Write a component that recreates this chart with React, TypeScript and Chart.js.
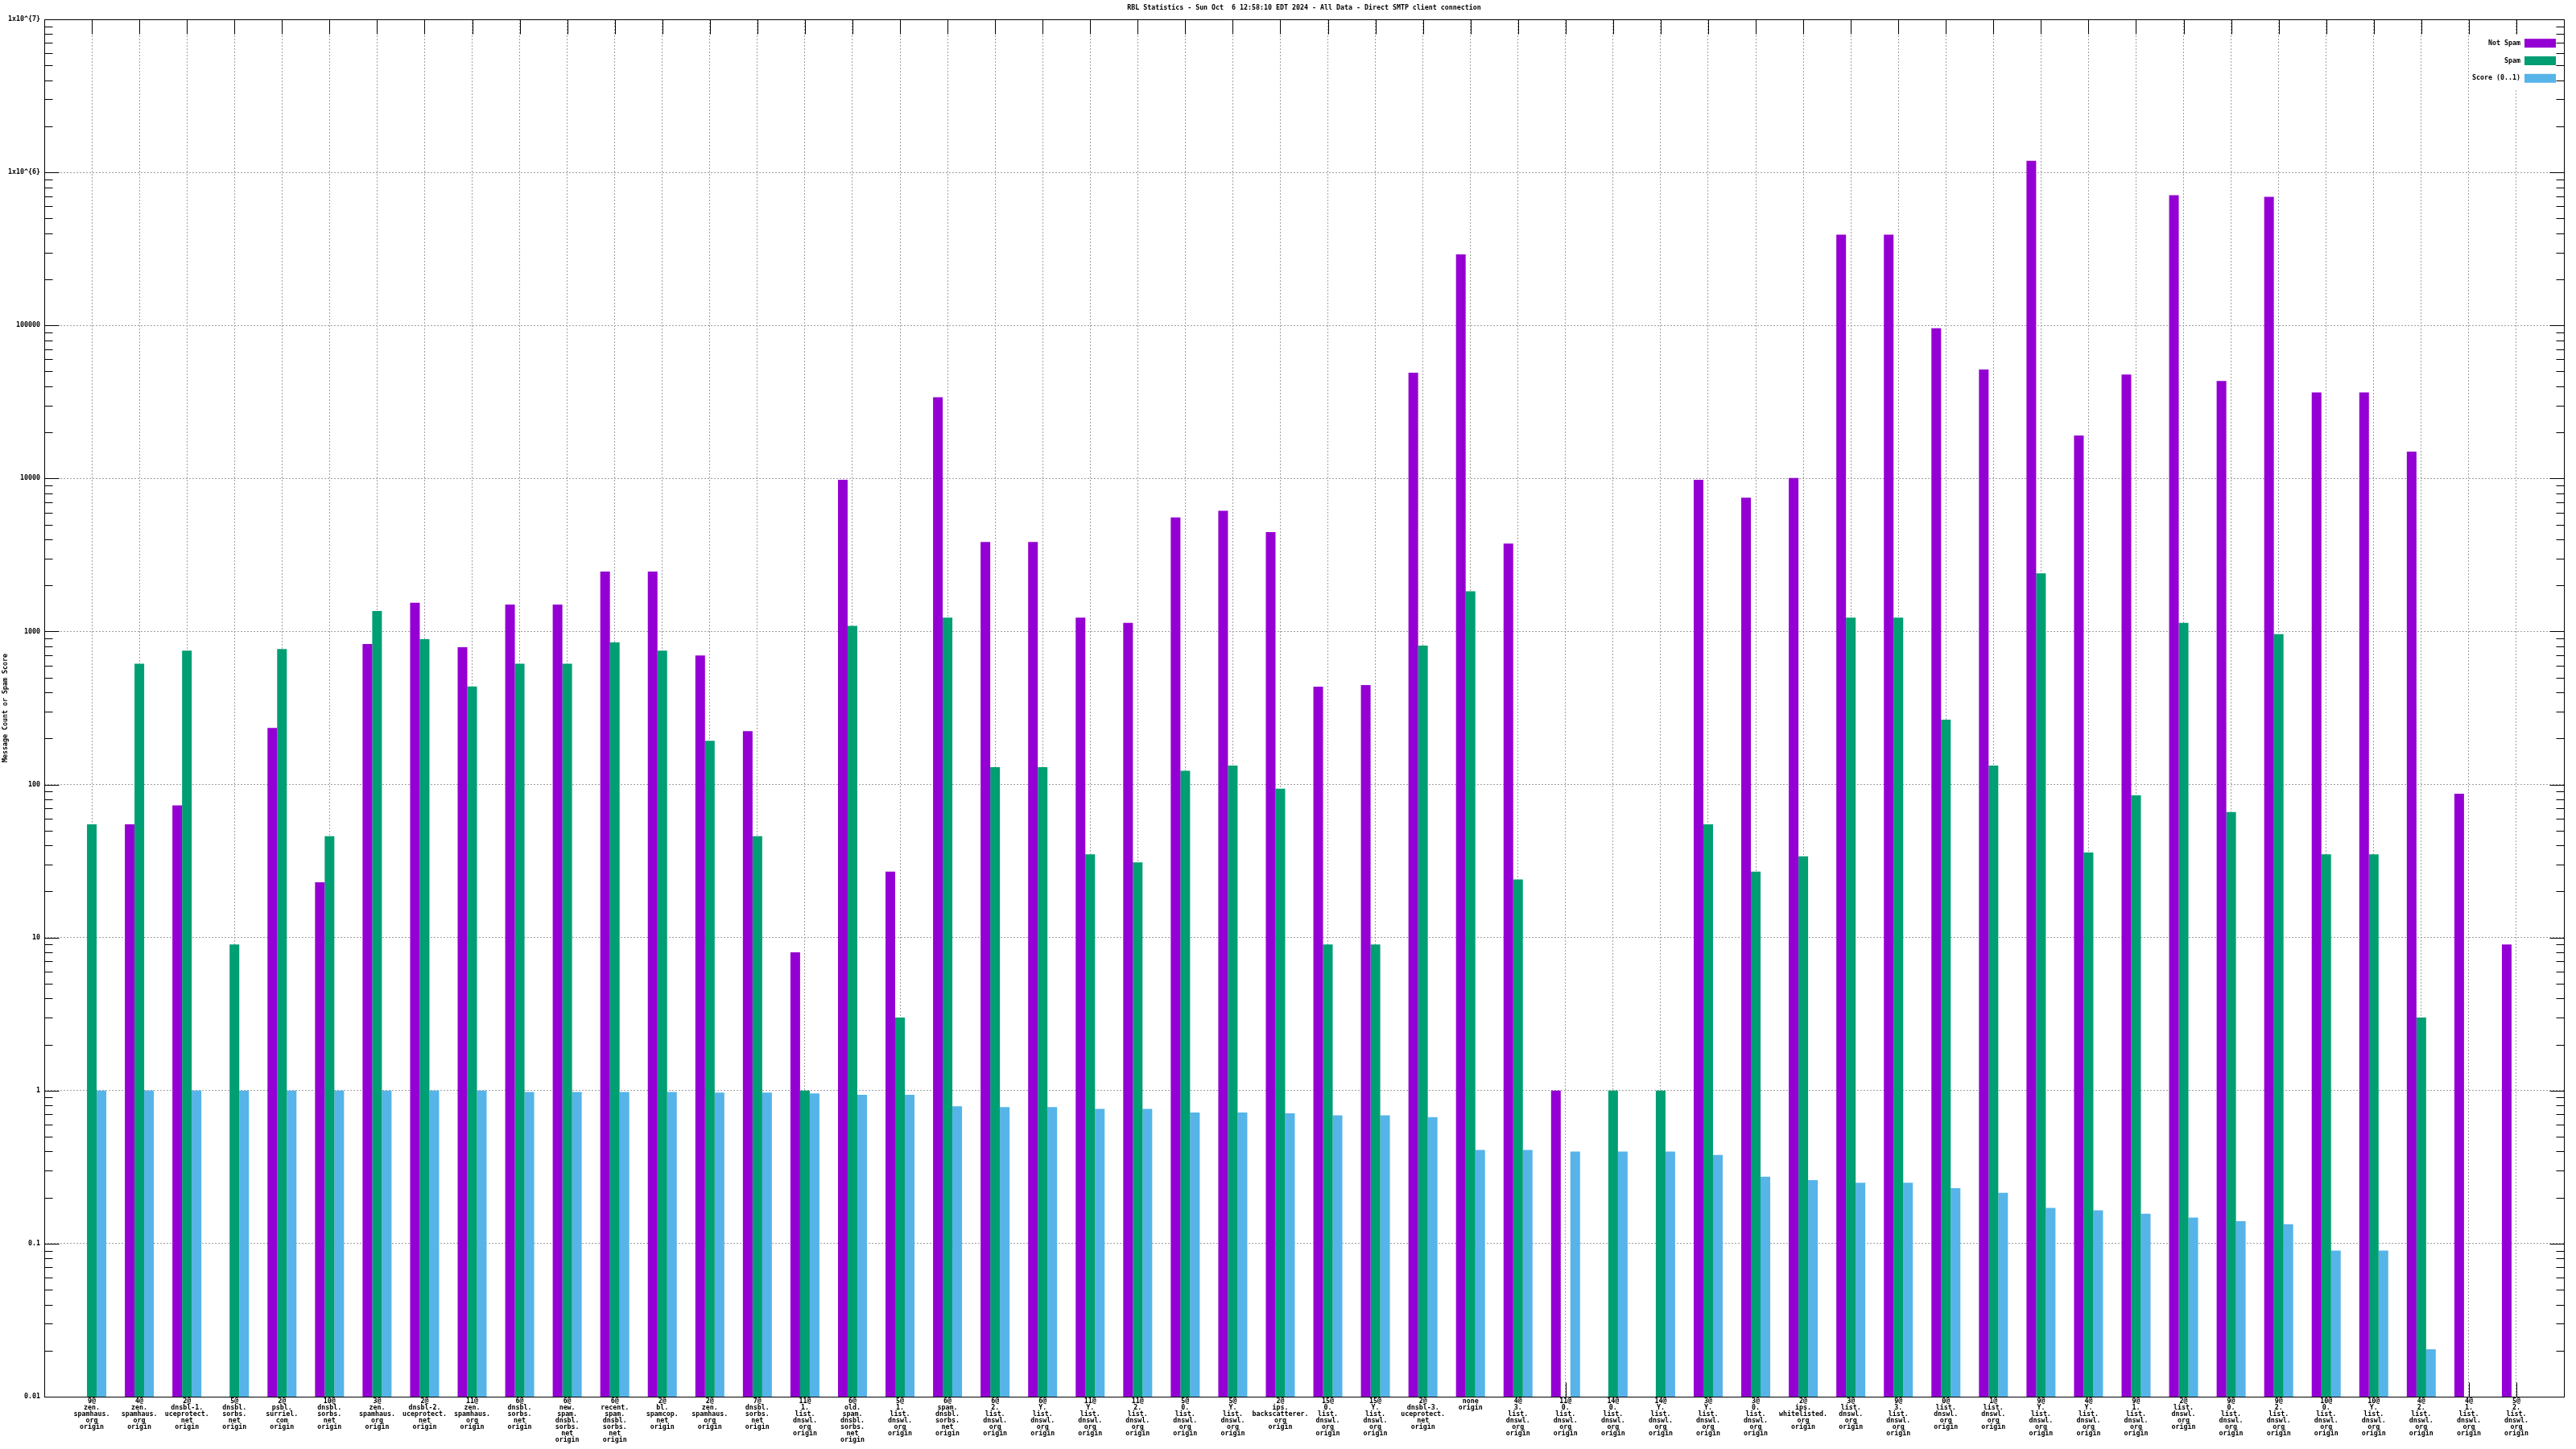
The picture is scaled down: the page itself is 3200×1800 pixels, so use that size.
import React, { useEffect, useRef } from 'react';
import { Chart, registerables } from 'chart.js';

Chart.register(...registerables);

const chartTitle = 'RBL Statistics - Sun Oct  6 12:58:10 EDT 2024 - All Data - Direct SMTP client connection';
const yAxisTitle = 'Message Count or Spam Score';

const categories: string[] = [
  '9@ zen. spamhaus. org origin',
  '4@ zen. spamhaus. org origin',
  '2@ dnsbl-1. uceprotect. net origin',
  '5@ dnsbl. sorbs. net origin',
  '2@ psbl. surriel. com origin',
  '10@ dnsbl. sorbs. net origin',
  '3@ zen. spamhaus. org origin',
  '2@ dnsbl-2. uceprotect. net origin',
  '11@ zen. spamhaus. org origin',
  '6@ dnsbl. sorbs. net origin',
  '6@ new. spam. dnsbl. sorbs. net origin',
  '6@ recent. spam. dnsbl. sorbs. net origin',
  '2@ bl. spamcop. net origin',
  '2@ zen. spamhaus. org origin',
  '7@ dnsbl. sorbs. net origin',
  '11@ 1. list. dnswl. org origin',
  '6@ old. spam. dnsbl. sorbs. net origin',
  '5@ 1. list. dnswl. org origin',
  '6@ spam. dnsbl. sorbs. net origin',
  '6@ 2. list. dnswl. org origin',
  '6@ Y. list. dnswl. org origin',
  '11@ Y. list. dnswl. org origin',
  '11@ 2. list. dnswl. org origin',
  '5@ 0. list. dnswl. org origin',
  '5@ Y. list. dnswl. org origin',
  '2@ ips. backscatterer. org origin',
  '15@ 0. list. dnswl. org origin',
  '15@ Y. list. dnswl. org origin',
  '2@ dnsbl-3. uceprotect. net origin',
  'none origin',
  '4@ 3. list. dnswl. org origin',
  '11@ 0. list. dnswl. org origin',
  '14@ 0. list. dnswl. org origin',
  '14@ Y. list. dnswl. org origin',
  '3@ Y. list. dnswl. org origin',
  '3@ 0. list. dnswl. org origin',
  '2@ ips. whitelisted. org origin',
  '3@ list. dnswl. org origin',
  '9@ 3. list. dnswl. org origin',
  '0@ list. dnswl. org origin',
  '1@ list. dnswl. org origin',
  '9@ Y. list. dnswl. org origin',
  '4@ Y. list. dnswl. org origin',
  '9@ 1. list. dnswl. org origin',
  '2@ list. dnswl. org origin',
  '9@ 0. list. dnswl. org origin',
  '9@ 2. list. dnswl. org origin',
  '10@ 0. list. dnswl. org origin',
  '10@ Y. list. dnswl. org origin',
  '4@ 2. list. dnswl. org origin',
  '4@ 1. list. dnswl. org origin',
  '5@ 2. list. dnswl. org origin',
];

const notSpam: (number | null)[] = [
  null, 55, 73, null, 234, 23, 829, 1540, 789, 1500,
  1500, 2460, 2460, 697, 223, 8, 9800, 27, 33900, 3840,
  3840, 1230, 1140, 5560, 6140, 4460, 436, 446, 49100, 291000,
  3750, 1, null, null, 9800, 7480, 10070, 392000, 392000, 95700,
  51500, 1190000, 19100, 47800, 710000, 43300, 693000, 36500, 36500, 14960,
  87, 9,
];

const spam: (number | null)[] = [
  55, 616, 750, 9, 769, 46, 1360, 890, 437, 616,
  616, 849, 750, 193, 46, 1, 1087, 3, 1230, 130,
  130, 35, 31, 123, 133, 94, 9, 9, 808, 1830,
  24, null, 1, 1, 55, 27, 34, 1230, 1230, 265,
  133, 2400, 36, 85, 1140, 66, 961, 35, 35, 3,
  null, null,
];

const score: (number | null)[] = [
  1, 1, 1, 1, 1, 1, 1, 1, 1, 0.98,
  0.98, 0.98, 0.98, 0.97, 0.97, 0.96, 0.94, 0.94, 0.79, 0.78,
  0.78, 0.76, 0.76, 0.72, 0.72, 0.71, 0.69, 0.69, 0.67, 0.41,
  0.41, 0.40, 0.40, 0.40, 0.38, 0.274, 0.26, 0.25, 0.25, 0.23,
  0.215, 0.171, 0.165, 0.157, 0.148, 0.14, 0.134, 0.090, 0.090, 0.0204,
  null, null,
];

const yTicks = [0.01, 0.1, 1, 10, 100, 1000, 10000, 100000, 1e6, 1e7];
const yTickLabels = ['0.01', '0.1', '1', '10', '100', '1000', '10000', '100000', '1x10^{6}', '1x10^{7}'];

const seriesNames = ['Not Spam', 'Spam', 'Score (0..1)'];
const seriesColors = ['#9400d3', '#009e73', '#56b4e9'];

const FAMILY = "'DejaVu Sans Mono', 'Liberation Mono', monospace";
const FONT = { family: FAMILY, size: 8.3, lineHeight: '8px', weight: 'bold' as const };

const gnuplotPlugin = {
  id: 'gnuplotLook',
  beforeDatasetsDraw(chart: any) {
    const { ctx, chartArea: ca, scales } = chart;
    const xs = scales.x;
    const ys = scales.y;
    const L = Math.round(ca.left) + 0.5;
    const R = Math.round(ca.right) + 0.5;
    const T = Math.round(ca.top) + 0.5;
    const B = Math.round(ca.bottom) + 0.5;
    ctx.save();
    // opaque key background
    ctx.fillStyle = '#ffffff';
    ctx.fillRect(3069, 43, R - 3069, 68);
    ctx.strokeStyle = '#000000';
    ctx.lineWidth = 1;
    ctx.beginPath();
    // y ticks (major + minor), mirrored on right
    for (let d = -2; d <= 7; d++) {
      for (let m = 1; m <= 9; m++) {
        if (d === 7 && m > 1) break;
        const v = m * Math.pow(10, d);
        const py = Math.round(ys.getPixelForValue(v)) + 0.5;
        const len = m === 1 ? 18 : 10;
        ctx.moveTo(L, py); ctx.lineTo(L + len, py);
        ctx.moveTo(R, py); ctx.lineTo(R - len, py);
      }
    }
    // x ticks at categories, top and bottom
    for (let i = 1; i < xs.ticks.length - 1; i++) {
      const px = Math.round(xs.getPixelForTick(i)) + 0.5;
      ctx.moveTo(px, T); ctx.lineTo(px, T + 18);
      ctx.moveTo(px, B); ctx.lineTo(px, B - 18);
    }
    ctx.stroke();
    ctx.restore();
  },
  afterDatasetsDraw(chart: any) {
    const { ctx, chartArea: ca } = chart;
    const L = Math.round(ca.left) + 0.5;
    const R = Math.round(ca.right) + 0.5;
    const T = Math.round(ca.top) + 0.5;
    const B = Math.round(ca.bottom) + 0.5;
    ctx.save();
    ctx.strokeStyle = '#000000';
    ctx.lineWidth = 1;
    ctx.strokeRect(L, T, R - L, B - T);
    // key
    ctx.font = `${FONT.weight} ${FONT.size}px ${FAMILY}`;
    ctx.textAlign = 'right';
    ctx.textBaseline = 'middle';
    chart.data.datasets.forEach((ds: any, i: number) => {
      const cy = 53.7 + i * 21.8;
      ctx.fillStyle = '#000000';
      ctx.fillText(ds.label, 3131, cy);
      ctx.fillStyle = ds.backgroundColor;
      ctx.fillRect(3136, cy - 5.5, 39, 11);
    });
    ctx.restore();
  },
};

export default function App() {
  const ref = useRef<HTMLCanvasElement>(null);

  useEffect(() => {
    const labels = ['', ...categories.map((c) => c.split(' ')), ''];
    const pad = (a: (number | null)[]) => [null, ...a, null];
    const series = [notSpam, spam, score];
    const gridStyle = { color: '#a0a0a0', lineWidth: 1, drawTicks: false, offset: false };
    const chart = new Chart(ref.current as HTMLCanvasElement, {
      type: 'bar',
      data: {
        labels,
        datasets: series.map((s, i) => ({
          label: seriesNames[i],
          data: pad(s),
          backgroundColor: seriesColors[i],
          borderWidth: 0,
          barThickness: 12,
          inflateAmount: 0,
        })),
      },
      options: {
        responsive: false,
        animation: false,
        devicePixelRatio: 1,
        events: [],
        layout: { padding: { left: 0, right: 15, top: 0, bottom: 0 } },
        plugins: {
          legend: { display: false },
          tooltip: { enabled: false },
          title: {
            display: true,
            text: chartTitle,
            color: '#000',
            fullSize: false,
            font: FONT,
            padding: { top: 6, bottom: 10 },
          },
        },
        scales: {
          x: {
            type: 'category',
            offset: false,
            grid: gridStyle,
            border: { display: false, dash: [2, 2] },
            ticks: {
              autoSkip: false,
              maxRotation: 0,
              minRotation: 0,
              padding: 2,
              color: '#000',
              font: FONT,
            },
            afterFit: (s: any) => { s.height = 65; },
          },
          y: {
            type: 'logarithmic',
            min: 0.01,
            max: 1e7,
            grid: gridStyle,
            border: { display: false, dash: [2, 2] },
            afterBuildTicks: (s: any) => { s.ticks = yTicks.map((v) => ({ value: v })); },
            ticks: {
              autoSkip: false,
              padding: 5,
              color: '#000',
              font: FONT,
              callback: (_v: any, i: number) => yTickLabels[i],
            },
            title: {
              display: true,
              text: yAxisTitle,
              color: '#000',
              font: FONT,
              padding: { top: 3, bottom: 0 },
            },
            afterFit: (s: any) => { s.width = 55; },
          },
        },
      } as any,
      plugins: [gnuplotPlugin],
    });
    return () => chart.destroy();
  }, []);

  return (
    <div style={{ position: 'fixed', left: 0, top: 0, width: 3200, height: 1800, background: '#ffffff' }}>
      <canvas ref={ref} width={3200} height={1800} style={{ display: 'block', width: 3200, height: 1800 }} />
    </div>
  );
}
